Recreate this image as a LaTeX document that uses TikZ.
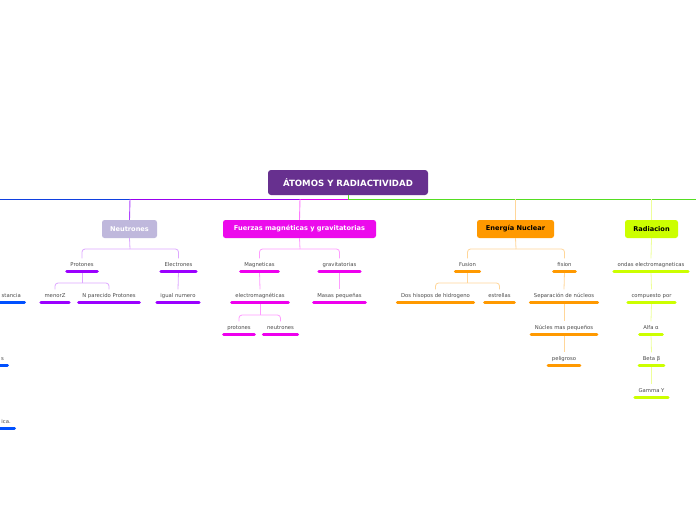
\documentclass[tikz,border=0pt]{standalone}
\usepackage{fontspec}
\setmainfont{DejaVu Sans}
\definecolor{rootc}{HTML}{67308F}
\definecolor{neutc}{HTML}{BFB8DC}
\definecolor{fuerc}{HTML}{EC0AEC}
\definecolor{enerc}{HTML}{FF9900}
\definecolor{radc}{HTML}{CCFF00}
\definecolor{barP}{HTML}{9B00FF}
\definecolor{barM}{HTML}{EE00EE}
\definecolor{barO}{HTML}{FF9900}
\definecolor{barY}{HTML}{CCFF00}
\definecolor{barB}{HTML}{0050FF}
\definecolor{conP}{HTML}{DDA8FF}
\definecolor{conM}{HTML}{FF9CFF}
\definecolor{conO}{HTML}{FFD699}
\definecolor{conY}{HTML}{EEFF99}
\definecolor{lineB}{HTML}{1040E0}
\definecolor{lineP}{HTML}{9900EE}
\definecolor{lineM}{HTML}{DD00EE}
\definecolor{lineG}{HTML}{55DD22}
\definecolor{vertP}{HTML}{B044FF}
\definecolor{vertM}{HTML}{FF77FF}
\definecolor{txt}{HTML}{4A4A4A}
\tikzset{
  rootbox/.style={fill=rootc, rounded corners=3pt, minimum width=160pt, minimum height=25pt,
    text=white, font=\bfseries\fontsize{8.6}{10}\selectfont, inner sep=0pt},
  branchbox/.style={rounded corners=2.5pt, minimum height=18pt, inner sep=0pt,
    font=\bfseries\fontsize{6.6}{8}\selectfont},
  item/.style={font=\fontsize{5.3}{6.3}\selectfont, text=txt, inner xsep=3.5pt, inner ysep=4pt,
    text height=3.7pt, text depth=1.1pt},
  bar/.style={line width=3pt, line cap=round, draw=#1},
  conn/.style={line width=0.8pt, draw=#1, rounded corners=3pt},
}
\begin{document}
\begin{tikzpicture}[x=1pt,y=-1pt]
\useasboundingbox (0,0) rectangle (696,520);
\clip (0,0) rectangle (696,520);
\fill[white] (0,0) rectangle (696,520);

% root
\node[rootbox] (root) at (348,182.5) {ÁTOMOS Y RADIACTIVIDAD};
\coordinate (hub) at (348,199);
\coordinate (lend) at (0,199);
\coordinate (rend) at (696,199);
\coordinate (jN) at (130,199);
\coordinate (jF) at (300,199);

% branch boxes
\node[branchbox, fill=neutc, text=white, minimum width=55pt] (neut) at (129.5,229) {Neutrones};
\node[branchbox, fill=fuerc, text=white, minimum width=153pt] (fuer) at (299.5,229) {Fuerzas magnéticas y gravitatorias};
\node[branchbox, fill=enerc, text=black, minimum width=77pt] (ener) at (515.5,229) {Energía Nuclear};
\node[branchbox, fill=radc, text=black, minimum width=53pt] (rad) at (651.5,229) {Radiacion};

% main line
\draw[line width=0.9pt, lineB] (lend) -- (jN);
\draw[line width=0.9pt, lineP] (jN) -- (jF);
\draw[line width=0.9pt, lineM] (jF) -- (hub);
\draw[line width=0.9pt, lineG] (root.south) -- (hub) -- (rend);
\draw[line width=0.9pt, vertP] (jN) -- (neut.north);
\draw[line width=0.9pt, vertM] (jF) -- (fuer.north);
\draw[line width=0.9pt, conO] (ener.north |- hub) -- (ener.north);
\draw[line width=0.9pt, conY] (rad.north |- hub) -- (rad.north);

% --- Neutrones
\node[item] (prot) at (82,265) {Protones};
\node[item] (elec) at (178.5,265) {Electrones};
\node[item] (menz) at (55,296) {menorZ};
\node[item] (npar) at (109,296) {N parecido Protones};
\node[item] (igual) at (178,296) {igual numero};
\coordinate (bN) at (130,249);
\coordinate (bP) at (82,283);
\draw[conn=conP] (prot.north) |- (bN) -| (elec.north);
\draw[conn=conP] (neut.south) -- (bN);
\draw[conn=conP] (menz.north) |- (bP) -| (npar.north);
\draw[conn=conP] (prot.south) -- (bP);
\draw[conn=conP] (elec.south) -- (igual.north);
\foreach \n in {prot,elec,menz,npar,igual}
  \draw[bar=barP] (\n.south west) -- (\n.south east);

% --- Fuerzas
\node[item] (magn) at (259.5,265) {Magneticas};
\node[item] (grav) at (339.5,265) {gravitatorias};
\node[item] (emag) at (260,296) {electromagnéticas};
\node[item] (masas) at (339.5,296) {Masas pequeñas};
\node[item] (protm) at (239,328) {protones};
\node[item] (neum) at (280.5,328) {neutrones};
\coordinate (bF) at (300,249);
\coordinate (bE) at (260,315);
\draw[conn=conM] (magn.north) |- (bF) -| (grav.north);
\draw[conn=conM] (fuer.south) -- (bF);
\draw[conn=conM] (magn.south) -- (emag.north);
\draw[conn=conM] (grav.south) -- (masas.north);
\draw[conn=conM] (protm.north) |- (bE) -| (neum.north);
\draw[conn=conM] (emag.south) -- (bE);
\foreach \n in {magn,grav,emag,masas,protm,neum}
  \draw[bar=barM] (\n.south west) -- (\n.south east);

% --- Energia Nuclear
\node[item] (fus) at (467.5,265) {Fusion};
\node[item] (fis) at (564.5,265) {fision};
\node[item] (dos) at (435.5,296) {Dos hisopos de hidrogeno};
\node[item] (estr) at (499.5,296) {estrellas};
\node[item] (sep) at (564,296) {Separación de núcleos};
\node[item] (nucl) at (564,328) {Núcles mas pequeños};
\node[item] (peli) at (564,359) {peligroso};
\coordinate (bEn) at (516,249);
\coordinate (bFu) at (467.5,283);
\draw[conn=conO] (fus.north) |- (bEn) -| (fis.north);
\draw[conn=conO] (ener.south) -- (bEn);
\draw[conn=conO] (dos.north) |- (bFu) -| (estr.north);
\draw[conn=conO] (fus.south) -- (bFu);
\draw[conn=conO] (fis.south) -- (sep.north);
\draw[conn=conO] (sep.south) -- (nucl.north);
\draw[conn=conO] (nucl.south) -- (peli.north);
\foreach \n in {fus,fis,dos,estr,sep,nucl,peli}
  \draw[bar=barO] (\n.south west) -- (\n.south east);

% --- Radiacion
\node[item] (ondas) at (651,265) {ondas electromagneticas};
\node[item] (comp) at (651.5,296) {compuesto por};
\node[item] (alfa) at (651,328) {Alfa α};
\node[item] (beta) at (651.5,359) {Beta β};
\node[item] (gamma) at (651.5,391) {Gamma Y};
\draw[conn=conY] (rad.south) -- (ondas.north);
\draw[conn=conY] (ondas.south) -- (comp.north);
\draw[conn=conY] (comp.south) -- (alfa.north);
\draw[conn=conY] (alfa.south) -- (beta.north);
\draw[conn=conY] (beta.south) -- (gamma.north);
\foreach \n in {ondas,comp,alfa,beta,gamma}
  \draw[bar=barY] (\n.south west) -- (\n.south east);

% --- clipped blue branch at left edge
\node[item, anchor=east] (bl1) at (24.5,296) {stancia};
\node[item, anchor=east] (bl2) at (7.5,359) {s};
\node[item, anchor=east] (bl3) at (14.5,422) {ica.};
\foreach \n in {bl1,bl2,bl3}
  \draw[bar=barB] (\n.south west) -- (\n.south east);
\end{tikzpicture}
\end{document}
